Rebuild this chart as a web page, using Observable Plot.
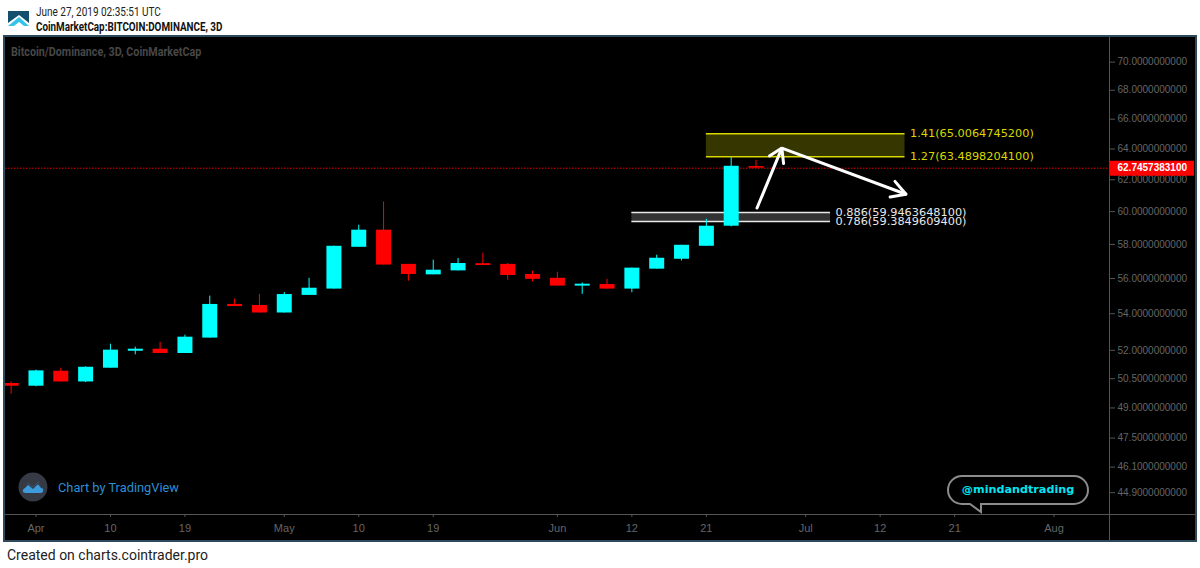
<!DOCTYPE html>
<html>
<head>
<meta charset="utf-8">
<script src="https://cdn.jsdelivr.net/npm/d3@7"></script>
<script src="https://cdn.jsdelivr.net/npm/@observablehq/plot@0.6"></script>
<style>
html,body{margin:0;padding:0;background:#fff;width:1200px;height:568px;overflow:hidden}
#page{position:relative;width:1200px;height:568px}
#chart{position:absolute;left:5px;top:37px;width:1190px;height:503px}
#chart svg{display:block;outline:2px solid #2c4a5c;outline-offset:0}
.t{position:absolute;white-space:nowrap;font-family:Roboto,sans-serif;transform-origin:left center}
</style>
</head>
<body>
<div id="page">
<svg style="position:absolute;left:8px;top:11px" width="22" height="16" viewBox="0 0 22 16">
  <polygon points="0,0 21,0 21,12 11,4 0,12" fill="#14506e"/>
  <polygon points="0,15 11,6 21,15 16,15 11,11 6,15" fill="#35c4e8"/>
</svg>
<div class="t" id="h1" style="left:36px;top:4px;font-size:12.5px;color:#222;transform:scaleX(.8)">June 27, 2019 02:35:51 UTC</div>
<div class="t" id="h2" style="left:36px;top:20px;font-size:12px;font-weight:700;color:#111;transform:scaleX(.82)">CoinMarketCap:BITCOIN:DOMINANCE, 3D</div>
<div id="chart"></div>
<div class="t" id="wm" style="left:11px;top:44px;font-size:13px;font-weight:700;color:#474747;transform:scaleX(.826)">Bitcoin/Dominance, 3D, CoinMarketCap</div>
<svg style="position:absolute;left:18px;top:472px" width="30" height="30" viewBox="0 0 30 30">
  <circle cx="15" cy="15" r="14.5" fill="#363a45"/>
  <path d="M5 18 L10 11 L15 15 L20 10 L25 17 Q26 21 22 21 L8 21 Q4 21 5 18 Z" fill="#3d9bdc"/>
  <path d="M6 16 L10 12 L15 16 L20 11 L24 16" fill="none" stroke="#363a45" stroke-width="1.4"/>
</svg>
<div class="t" id="tv" style="left:58px;top:480px;font-size:12.8px;color:#2a8fd4">Chart by TradingView</div>
<svg style="position:absolute;left:940px;top:470px" width="160" height="46" viewBox="940 470 160 46">
  <path d="M962 476 H1074 A14 14 0 0 1 1074 504 H981 L981 512 L970 504 H962 A14 14 0 0 1 962 476 Z" fill="#000" stroke="#8c8c8c" stroke-width="2"/>
  <text x="1018" y="493" text-anchor="middle" font-family="'DejaVu Sans',sans-serif" font-size="11.2" font-weight="700" fill="#00e6f0">@mindandtrading</text>
</svg>
<div class="t" id="ft" style="left:7px;top:547px;font-size:14px;color:#222">Created on charts.cointrader.pro</div>
</div>
<script>
// 3-day candles
const dates = ["2019-03-29","2019-04-01","2019-04-04","2019-04-07","2019-04-10","2019-04-13","2019-04-16","2019-04-19","2019-04-22","2019-04-25","2019-04-28","2019-05-01","2019-05-04","2019-05-07","2019-05-10","2019-05-13","2019-05-16","2019-05-19","2019-05-22","2019-05-25","2019-05-28","2019-05-31","2019-06-03","2019-06-06","2019-06-09","2019-06-12","2019-06-15","2019-06-18","2019-06-21","2019-06-24","2019-06-27"];
const opens  = [50.25,50.11,50.89,50.33,51.05,51.95,52.06,51.83,52.66,54.52,54.46,54.04,55.03,55.39,57.83,58.86,56.82,56.21,56.44,56.86,56.82,56.23,56.01,55.56,55.65,55.39,56.54,57.12,57.89,59.10,62.85];
const closes = [50.11,50.91,50.33,51.10,52.01,52.06,51.83,52.71,54.52,54.40,54.04,55.08,55.44,57.89,58.86,56.78,56.23,56.48,56.87,56.75,56.17,55.95,55.56,55.67,55.39,56.60,57.18,57.95,59.10,62.87,62.7457];
const highs  = [50.33,50.95,51.05,51.12,52.33,52.17,52.43,52.82,54.99,54.82,55.09,55.20,56.01,57.90,59.16,60.60,56.82,57.07,57.17,57.48,56.87,56.42,56.36,55.74,55.95,56.60,57.36,57.95,59.53,63.44,63.26];
const lows   = [49.70,50.08,50.33,50.30,51.05,51.76,51.83,51.83,52.66,54.40,54.04,54.04,55.03,55.39,57.83,56.78,55.84,56.21,56.44,56.75,55.90,55.80,55.56,55.09,55.39,55.18,56.54,57.02,57.89,59.06,62.75];

const yTicks = [70,68,66,64,62,60,58,56,54,52,50.5,49,47.5,46.1,44.9];
const xTicks = ["2019-04-01","2019-04-10","2019-04-19","2019-05-01","2019-05-10","2019-05-19","2019-06-03","2019-06-12","2019-06-21","2019-07-03","2019-07-12","2019-07-21","2019-08-02"];
const xLabels = ["Apr","10","19","May","10","19","Jun","12","21","Jul","12","21","Aug"];

const lastPrice = 62.7457383100;
const fibLabels = ["1.41(65.0064745200)","1.27(63.4898204100)","0.886(59.9463648100)","0.786(59.3849609400)"];
const fibValues = [65.00647452,63.48982041,59.94636481,59.38496094];
const fibStart = ["2019-06-21","2019-06-21","2019-06-12","2019-06-12"];
const fibEnd = ["2019-07-15","2019-07-15","2019-07-06","2019-07-06"];
const fibColors = ["#d8d800","#d8d800","#e8e8e8","#e8e8e8"];

const arrowGroup = ["shaft","shaft","shaft","head1","head1","head1","head2","head2","head2"];
const arrowTimes = ["2019-06-27T00:00Z","2019-06-30T00:00Z","2019-07-15T00:00Z","2019-06-28T12:00Z","2019-06-30T00:00Z","2019-06-30T05:00Z","2019-07-13T16:00Z","2019-07-15T00:00Z","2019-07-13T02:00Z"];
const arrowPrices = [60.22,64.06,61.08,63.54,64.06,63.05,61.90,61.08,60.91];

const toDate = s => new Date(s.length === 10 ? s + "T00:00Z" : s);
const candles = dates.map((d,i)=>({date:toDate(d),open:opens[i],close:closes[i],high:highs[i],low:lows[i],color:closes[i]>=opens[i]?"#00ffff":"#ff0000"}));
const fibs = fibValues.map((v,i)=>({value:v,label:fibLabels[i],x1:toDate(fibStart[i]),x2:toDate(fibEnd[i]),color:fibColors[i]}));
const arrows = arrowTimes.map((t,i)=>({t:toDate(t),p:arrowPrices[i],g:arrowGroup[i]}));
const axisColor = "#555";
const xEnd = toDate("2019-08-08T17:00Z");

const chart = Plot.plot({
  width:1190,height:503,
  marginLeft:0,marginRight:86,marginTop:0,marginBottom:26,
  style:{background:"#000",overflow:"visible"},
  x:{type:"utc",domain:[toDate("2019-03-28T07:40Z"),xEnd]},
  y:{type:"log",domain:[43.9,71.8]},
  marks:[
    Plot.rect([fibs[0]],{x1:"x1",x2:"x2",y1:()=>fibValues[0],y2:()=>fibValues[1],fill:"#d8d800",fillOpacity:0.25}),
    Plot.rect([fibs[2]],{x1:"x1",x2:"x2",y1:()=>fibValues[2],y2:()=>fibValues[3],fill:"#fff",fillOpacity:0.2}),
    Plot.ruleY(fibs,{y:"value",x1:"x1",x2:"x2",stroke:"color",strokeWidth:1.5}),
    Plot.ruleY([lastPrice],{stroke:"#e00000",strokeWidth:1,strokeDasharray:"1.5,1.5"}),
    Plot.ruleX(candles,{x:"date",y1:"low",y2:"high",stroke:"color",strokeWidth:1,clip:true}),
    Plot.ruleX(candles,{x:"date",y1:"open",y2:"close",stroke:"color",strokeWidth:15,clip:true}),
    Plot.text(fibs,{x:"x2",y:"value",text:"label",fill:"color",textAnchor:"start",dx:5,fontFamily:"'DejaVu Sans',sans-serif",fontSize:11.3}),
    Plot.line(arrows,{x:"t",y:"p",z:"g",stroke:"#fff",strokeWidth:3,strokeLinejoin:"miter",dx:1}),
    // axis separators
    Plot.ruleX([xEnd],{stroke:axisColor,strokeWidth:1,insetBottom:-26}),
    Plot.ruleY([43.9],{stroke:axisColor,strokeWidth:1,insetRight:-86}),
    Plot.axisY(yTicks,{anchor:"right",tickSize:5,tickPadding:3,color:"#666",stroke:axisColor,tickFormat:d=>d.toFixed(10),fontFamily:"'Liberation Sans',Arial,sans-serif",fontSize:10,label:null}),
    Plot.axisX(xTicks.map(toDate),{anchor:"bottom",tickSize:3,tickPadding:7,color:"#666",stroke:axisColor,tickFormat:(d,i)=>xLabels[i],fontFamily:"'Liberation Sans',Arial,sans-serif",fontSize:11,label:null}),
    // last price tag
    Plot.ruleY([lastPrice],{stroke:"#ff0000",strokeWidth:15,insetLeft:1104,insetRight:-85}),
    Plot.text([lastPrice],{y:d=>d,frameAnchor:"right",dx:8,textAnchor:"start",text:d=>d.toFixed(10),fill:"#fff",fontFamily:"'Liberation Sans',Arial,sans-serif",fontSize:10,fontWeight:700})
  ]
});
document.getElementById("chart").appendChild(chart);
</script>
</body>
</html>
